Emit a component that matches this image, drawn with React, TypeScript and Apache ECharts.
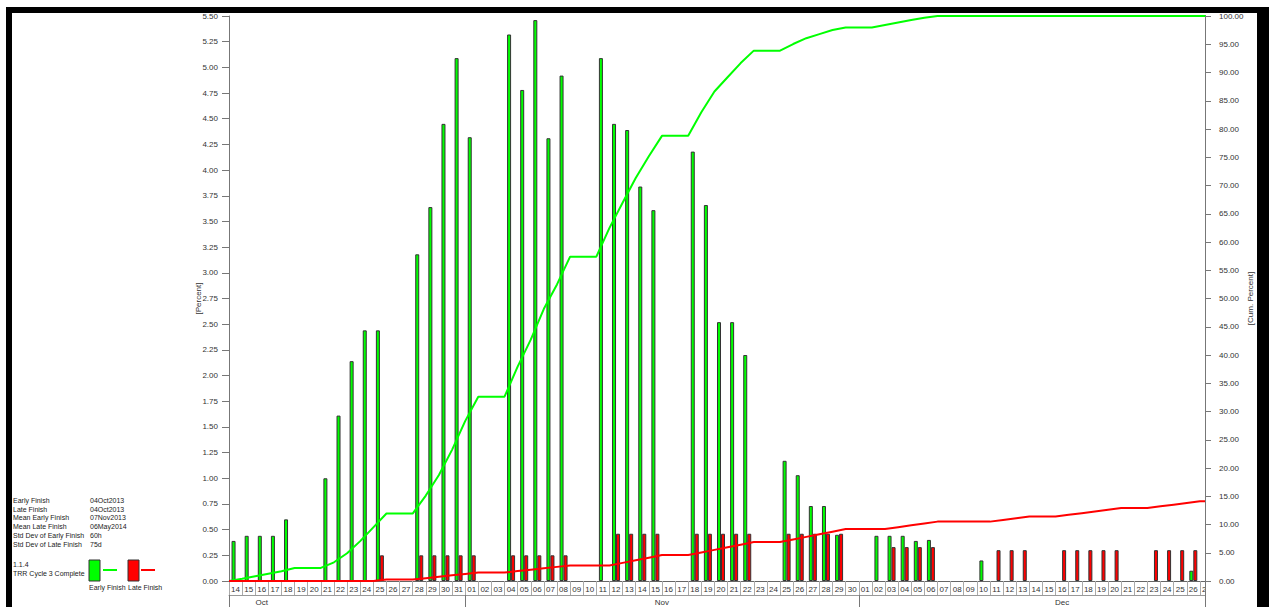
import React, { useEffect, useRef } from "react";
import * as echarts from "echarts";

const FONT = "'Liberation Sans', Arial, sans-serif";

const dayLabels = [
  "14","15","16","17","18","19","20","21","22","23","24","25","26","27","28","29","30","31",
  "01","02","03","04","05","06","07","08","09","10","11","12","13","14","15","16","17","18","19","20","21","22","23","24","25","26","27","28","29","30",
  "01","02","03","04","05","06","07","08","09","10","11","12","13","14","15","16","17","18","19","20","21","22","23","24","25","26","27",
];

const monthNames = ["Oct", "Nov", "Dec"];
const monthStartIndex = [0, 18, 48];
const monthLabelIndex = [2, 32, 63];
const monthLabelHalfShift = [false, true, false];

// Percent per day (left axis)
const earlyFinish = [
  0.39, 0.44, 0.44, 0.44, 0.60, 0, 0, 1.00, 1.61, 2.14, 2.44, 2.44, 0, 0, 3.18, 3.64, 4.45, 5.09,
  4.32, 0, 0, 5.32, 4.78, 5.46, 4.31, 4.92, 0, 0, 5.09, 4.45, 4.39, 3.84, 3.61, 0, 0, 4.18, 3.66, 2.52, 2.52, 2.20, 0, 0, 1.17, 1.03, 0.73, 0.73, 0.45, 0,
  0, 0.44, 0.44, 0.44, 0.39, 0.40, 0, 0, 0, 0.20, 0, 0, 0, 0, 0, 0, 0, 0, 0, 0, 0, 0, 0, 0, 0, 0.10, 0,
];
const lateFinish = [
  0, 0, 0, 0, 0, 0, 0, 0, 0, 0, 0, 0.25, 0, 0, 0.25, 0.25, 0.25, 0.25,
  0.25, 0, 0, 0.25, 0.25, 0.25, 0.25, 0.25, 0, 0, 0, 0.46, 0.46, 0.46, 0.46, 0, 0, 0.46, 0.46, 0.46, 0.46, 0.46, 0, 0, 0.46, 0.46, 0.46, 0.46, 0.46, 0,
  0, 0, 0.33, 0.33, 0.33, 0.33, 0, 0, 0, 0, 0.30, 0.30, 0.30, 0, 0, 0.30, 0.30, 0.30, 0.30, 0.30, 0, 0, 0.30, 0.30, 0.30, 0.30, 0,
];

// Cumulative percent at day boundaries (right axis), 76 points
const earlyCumulative = [
  0,
  0.39, 0.83, 1.27, 1.71, 2.31, 2.31, 2.31, 3.31, 4.92, 7.06, 9.50, 11.94, 11.94, 11.94, 15.12, 18.76, 23.21, 28.30,
  32.62, 32.62, 32.62, 37.94, 42.72, 48.18, 52.49, 57.41, 57.41, 57.41, 62.50, 66.95, 71.34, 75.18, 78.79, 78.79, 78.79, 82.97, 86.63, 89.15, 91.67, 93.87, 93.87, 93.87, 95.04, 96.07, 96.80, 97.53, 97.98, 97.98,
  97.98, 98.42, 98.86, 99.30, 99.69, 100, 100, 100, 100, 100, 100, 100, 100, 100, 100, 100, 100, 100, 100, 100, 100, 100, 100, 100, 100, 100, 100,
];
const lateCumulative = [
  0,
  0, 0, 0, 0, 0, 0, 0, 0, 0, 0, 0, 0.25, 0.25, 0.25, 0.50, 0.75, 1.00, 1.25,
  1.50, 1.50, 1.50, 1.75, 2.00, 2.25, 2.50, 2.75, 2.75, 2.75, 2.75, 3.21, 3.67, 4.13, 4.59, 4.59, 4.59, 5.05, 5.51, 5.97, 6.43, 6.89, 6.89, 6.89, 7.35, 7.81, 8.27, 8.73, 9.19, 9.19,
  9.19, 9.19, 9.52, 9.85, 10.18, 10.51, 10.51, 10.51, 10.51, 10.51, 10.81, 11.11, 11.41, 11.41, 11.41, 11.71, 12.01, 12.31, 12.61, 12.91, 12.91, 12.91, 13.21, 13.51, 13.81, 14.11, 14.11,
];

const infoLabels = [
  "Early Finish",
  "Late Finish",
  "Mean Early Finish",
  "Mean Late Finish",
  "Std Dev of Early Finish",
  "Std Dev of Late Finish",
];
const infoValues = ["04Oct2013", "04Oct2013", "07Nov2013", "06May2014", "60h", "75d"];

export default function App() {
  const ref = useRef<HTMLDivElement>(null);

  useEffect(() => {
    if (!ref.current) return;
    const chart = echarts.init(ref.current, undefined, { renderer: "svg" });

    const edgeLabels = ["start", ...dayLabels];
    const txt = (text: string, x: number, y: number, extra: any = {}) => ({
      type: "text",
      x,
      y,
      z: 40,
      style: {
        text,
        fill: "#222",
        fontSize: 7,
        fontFamily: FONT,
        verticalAlign: "middle",
        align: "left",
        ...extra,
      },
    });

    const graphics: any[] = [];
    infoLabels.forEach((l, i) => {
      const y = 500.5 + i * 8.7;
      graphics.push(txt(l, 13, y));
      graphics.push(txt(infoValues[i], 90, y));
    });
    graphics.push(txt("1.1.4", 13, 564));
    graphics.push(txt("TRR Cycle 3 Complete", 13, 573));
    graphics.push({
      type: "rect",
      z: 40,
      shape: { x: 89, y: 560, width: 11, height: 21 },
      style: { fill: "#00ff00", stroke: "#333", lineWidth: 1 },
    });
    graphics.push({
      type: "line",
      z: 40,
      shape: { x1: 103, y1: 570, x2: 117, y2: 570 },
      style: { stroke: "#00ff00", lineWidth: 2 },
    });
    graphics.push({
      type: "rect",
      z: 40,
      shape: { x: 128, y: 560, width: 11, height: 21 },
      style: { fill: "#ff0000", stroke: "#333", lineWidth: 1 },
    });
    graphics.push({
      type: "line",
      z: 40,
      shape: { x1: 141, y1: 570, x2: 155, y2: 570 },
      style: { stroke: "#ff0000", lineWidth: 2 },
    });
    graphics.push(txt("Early Finish", 89, 587));
    graphics.push(txt("Late Finish", 128, 587));

    // cover for the clipped last day
    graphics.push({
      type: "rect",
      z: 10,
      shape: { x: 1206, y: 14, width: 12, height: 593 },
      style: { fill: "#fff" },
    });
    graphics.push({
      type: "line",
      z: 25,
      shape: { x1: 1205.5, y1: 581, x2: 1205.5, y2: 607 },
      style: { stroke: "#777", lineWidth: 1 },
    });
    // black frame
    graphics.push({ type: "rect", z: 50, shape: { x: 6, y: 7, width: 1263, height: 6 }, style: { fill: "#000" } });
    graphics.push({ type: "rect", z: 50, shape: { x: 6, y: 7, width: 6, height: 600 }, style: { fill: "#000" } });
    graphics.push({ type: "rect", z: 50, shape: { x: 1257, y: 7, width: 12, height: 600 }, style: { fill: "#000" } });

    const option: any = {
      animation: false,
      backgroundColor: "#ffffff",
      textStyle: { fontFamily: FONT },
      grid: { left: 229, top: 16, width: 984, height: 565, containLabel: false },
      xAxis: [
        {
          type: "category",
          data: dayLabels,
          boundaryGap: true,
          position: "bottom",
          axisLine: { onZero: false, lineStyle: { color: "#666", width: 1 } },
          axisTick: { show: true, interval: 0, length: 14, lineStyle: { color: "#aaa" } },
          axisLabel: { interval: 0, fontSize: 8, color: "#333", margin: 4, fontFamily: FONT },
          splitLine: { show: false },
        },
        {
          type: "category",
          data: dayLabels,
          boundaryGap: true,
          position: "bottom",
          offset: 14,
          axisLine: { onZero: false, lineStyle: { color: "#999", width: 1 } },
          axisTick: {
            show: true,
            interval: (i: number) => monthStartIndex.indexOf(i) >= 0,
            length: 12,
            lineStyle: { color: "#777" },
          },
          axisLabel: {
            interval: (i: number) => monthLabelIndex.indexOf(i) >= 0,
            formatter: (_v: string, i: number) => {
              const m = monthLabelIndex.indexOf(i);
              if (m < 0) return "";
              return monthLabelHalfShift[m] ? `{s|${monthNames[m]}}` : `{c|${monthNames[m]}}`;
            },
            rich: {
              s: { padding: [0, 0, 0, 13], fontSize: 8, color: "#333", fontFamily: FONT },
              c: { fontSize: 8, color: "#333", fontFamily: FONT },
            },
            fontSize: 8,
            color: "#333",
            margin: 3,
          },
          splitLine: { show: false },
        },
        {
          type: "category",
          data: edgeLabels,
          boundaryGap: false,
          show: false,
        },
      ],
      yAxis: [
        {
          type: "value",
          min: 0,
          max: 5.5,
          interval: 0.25,
          position: "left",
          name: "[Percent]",
          nameLocation: "middle",
          nameGap: 27,
          nameMoveOverlap: false,
          nameTextStyle: { fontSize: 8, color: "#333", fontFamily: FONT },
          axisLine: { show: true, lineStyle: { color: "#777" } },
          axisTick: { show: true, length: 7, lineStyle: { color: "#777" } },
          axisLabel: {
            fontSize: 8,
            color: "#333",
            margin: 11,
            fontFamily: FONT,
            formatter: (v: number) => v.toFixed(2),
          },
          splitLine: { show: false },
        },
        {
          type: "value",
          min: 0,
          max: 100,
          interval: 5,
          position: "right",
          offset: -8,
          z: 20,
          name: "[Cum. Percent]",
          nameLocation: "middle",
          nameGap: 41,
          nameMoveOverlap: false,
          nameTextStyle: { fontSize: 8, color: "#333", fontFamily: FONT },
          axisLine: { show: true, lineStyle: { color: "#777" } },
          axisTick: { show: true, length: 6, lineStyle: { color: "#777" } },
          axisLabel: {
            fontSize: 8,
            color: "#333",
            margin: 14,
            fontFamily: FONT,
            formatter: (v: number) => v.toFixed(2),
          },
          splitLine: { show: false },
        },
      ],
      series: [
        {
          type: "bar",
          name: "Early Finish",
          xAxisIndex: 0,
          yAxisIndex: 0,
          data: earlyFinish.map((v) => (v > 0 ? v : "-")),
          barWidth: 4,
          barGap: "0%",
          itemStyle: { color: "#00ff00", borderColor: "#333", borderWidth: 1 },
        },
        {
          type: "bar",
          name: "Late Finish",
          xAxisIndex: 0,
          yAxisIndex: 0,
          data: lateFinish.map((v) => (v > 0 ? v : "-")),
          barWidth: 4,
          barGap: "0%",
          itemStyle: { color: "#ff0000", borderColor: "#333", borderWidth: 1 },
        },
        {
          type: "line",
          name: "Early Finish Cum",
          xAxisIndex: 2,
          yAxisIndex: 1,
          data: earlyCumulative,
          symbol: "none",
          showSymbol: false,
          z: 4,
          lineStyle: { color: "#00ff00", width: 2 },
        },
        {
          type: "line",
          name: "Late Finish Cum",
          xAxisIndex: 2,
          yAxisIndex: 1,
          data: lateCumulative,
          symbol: "none",
          showSymbol: false,
          z: 4,
          lineStyle: { color: "#ff0000", width: 2 },
        },
      ],
      graphic: graphics,
    };

    chart.setOption(option);
    return () => chart.dispose();
  }, []);

  return (
    <div
      ref={ref}
      style={{ position: "absolute", left: 0, top: 0, width: 1269, height: 607 }}
    />
  );
}
